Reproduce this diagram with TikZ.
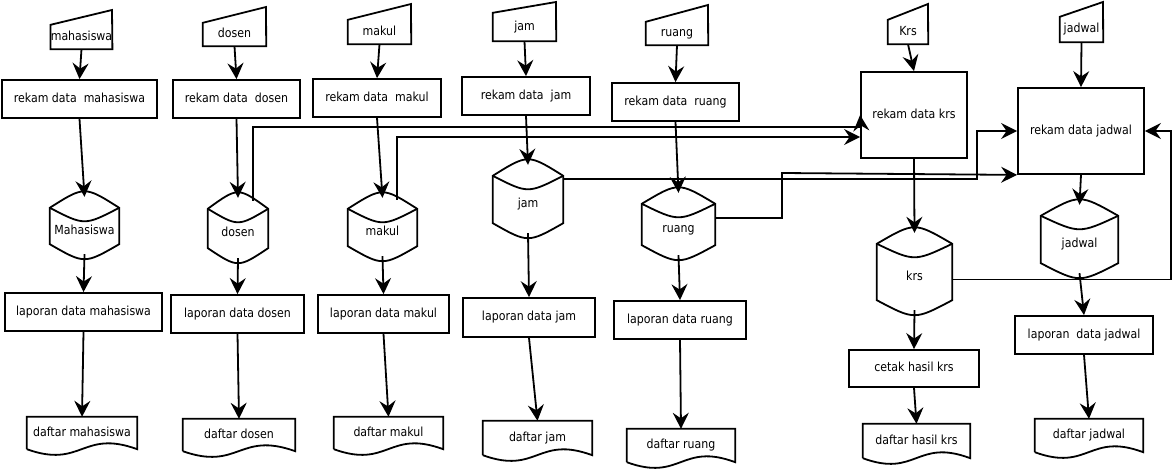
\documentclass[tikz,border=0pt]{standalone}
\usepackage{fontspec}
\setmainfont[FakeStretch=0.88]{DejaVu Sans}
\usetikzlibrary{arrows.meta}
\tikzset{
  outl/.style={line width=1.8pt, line join=miter},
  proc/.style={draw, line width=1.8pt, inner sep=0pt, text height=9pt, text depth=2.5pt},
  plain/.style={inner sep=0pt, text height=9pt, text depth=2.5pt},
  dbbody/.style={inner sep=0pt, text height=18pt, text depth=0pt},
  conn/.style={line width=1.8pt, -{Stealth[length=16pt,width=16pt,inset=5.5pt]}},
}
\newcommand{\procbox}[6]{%
  \node[proc, minimum width={#3-#2}, minimum height={#5-#4}] (#1) at ({(#2+#3)/2},{(#4+#5)/2}) {#6};}
\newcommand{\manin}[7]{%
  \node[plain, minimum width={#3-#2}, minimum height={#6-#5}] (#1) at ({(#2+#3)/2},{(#5+#6)/2}) {#7};
  \draw[outl] (#1.south west) -- (#1.south east) -- (#3,#4) -- (#1.north west) -- cycle;}
\newcommand{\dbase}[6]{%
  \node[dbbody, minimum width={#3-#2}, minimum height={#5-#4}] (#1) at ({(#2+#3)/2},{(#4+#5)/2}) {#6};
  \draw[outl] ([yshift=-11pt]#1.north west) .. controls ([yshift=11pt]#1.north) .. ([yshift=-11pt]#1.north east)
     -- ([yshift=10pt]#1.south east) .. controls ([yshift=-10pt]#1.south) .. ([yshift=10pt]#1.south west) -- cycle;
  \draw[outl] ([yshift=-11pt]#1.north west) .. controls ([yshift=-29pt]#1.north) .. ([yshift=-11pt]#1.north east);}
\newcommand{\docu}[6]{%
  \node[plain, minimum width={#3-#2}, minimum height={#5-#4}] (#1) at ({(#2+#3)/2},{(#4+#5)/2}) {#6};
  \draw[outl] (#1.south west) -- (#1.north west) -- (#1.north east) -- (#1.south east)
     .. controls ({(#2+#3)/2},{#5-20}) and ({(#2+#3)/2},{#5+20}) .. (#1.south west);}
\begin{document}
\begin{tikzpicture}[x=1pt,y=-1pt,font=\fontsize{12.5}{15}\selectfont]
\useasboundingbox[fill=white] (0,0) rectangle (1175,470);
% column 1
\manin{mi1}{51}{112}{10}{25}{49}{mahasiswa}
\procbox{p1}{2}{157}{80}{118}{rekam data~ mahasiswa}
\dbase{db1}{50}{119}{197}{254}{Mahasiswa}
\procbox{l1}{5}{162}{293}{331}{laporan data mahasiswa}
\docu{d1}{27}{137}{417}{449}{daftar mahasiswa}
% column 2
\manin{mi2}{203}{266}{7}{23}{46}{dosen}
\procbox{p2}{173}{300}{80}{118}{rekam data~ dosen}
\dbase{db2}{208}{268}{198}{258}{dosen}
\procbox{l2}{171}{304}{295}{333}{laporan data dosen}
\docu{d2}{183}{295}{419}{451}{daftar dosen}
% column 3
\manin{mi3}{348}{411}{4}{20}{44}{makul}
\procbox{p3}{313}{441}{79}{117}{rekam data~ makul}
\dbase{db3}{348}{417}{198}{256}{makul}
\procbox{l3}{318}{449}{295}{333}{laporan data makul}
\docu{d3}{334}{443}{417}{449}{daftar makul}
% column 4
\manin{mi4}{493}{556}{2}{13}{41}{jam}
\procbox{p4}{462}{590}{77}{115}{rekam data~ jam}
\dbase{db4}{493}{563}{165}{233}{jam}
\procbox{l4}{463}{595}{298}{337}{laporan data jam}
\docu{d4}{483}{592}{421}{455}{daftar jam}
% column 5
\manin{mi5}{646}{708}{5}{22}{45}{ruang}
\procbox{p5}{612}{739}{83}{121}{rekam data~ ruang}
\dbase{db5}{642}{715}{193}{255}{ruang}
\procbox{l5}{614}{746}{301}{339}{laporan data ruang}
\docu{d5}{627}{735}{429}{462}{daftar ruang}
% column 6
\manin{mi6}{888}{928}{4}{20}{44}{Krs}
\procbox{p6}{861}{967}{72}{158}{rekam data krs}
\dbase{db6}{877}{952}{233}{310}{krs}
\procbox{c6}{849}{979}{350}{387}{cetak hasil krs}
\docu{d6}{863}{970}{424}{458}{daftar hasil krs}
% column 7
\manin{mi7}{1060}{1103}{2}{17}{42}{jadwal}
\procbox{p7}{1018}{1144}{88}{174}{rekam data jadwal}
\dbase{db7}{1041}{1118}{205}{273}{jadwal}
\procbox{l7}{1015}{1153}{316}{354}{laporan~ data jadwal}
\docu{d7}{1035}{1143}{419}{452}{daftar jadwal}
% vertical flows
\foreach \i in {1,...,5}{
  \draw[conn] (mi\i.south) -- (p\i.north);
  \draw[conn] (p\i.south) -- (db\i.north);
  \draw[conn] (db\i.south) -- (l\i.north);
  \draw[conn] (l\i.south) -- (d\i.north);
}
\draw[conn] (mi6.south) -- (p6.north);
\draw[conn] (p6.south) -- (db6.north);
\draw[conn] (db6.south) -- (c6.north);
\draw[conn] (c6.south) -- (d6.north);
\draw[conn] (mi7.south) -- (p7.north);
\draw[conn] (p7.south) -- (db7.north);
\draw[conn] (db7.south) -- (l7.north);
\draw[conn] (l7.south) -- (d7.north);
% cross flows
\draw[conn] ([xshift=15pt,yshift=-3pt]db2.north) |- (861,127) -- (p6.west);
\draw[conn] ([xshift=14.5pt,yshift=-2pt]db3.north) |- ([yshift=-22pt]p6.west);
\draw[conn] ([yshift=-14pt]db4.north east) -| (977,131) -- (p7.west);
\draw[conn] ([yshift=6pt]db5.east) -| (782,173) -- (p7.south west);
\draw[conn] ([yshift=-8pt]db6.east) -| (1171,131) -- (p7.east);
\end{tikzpicture}
\end{document}
